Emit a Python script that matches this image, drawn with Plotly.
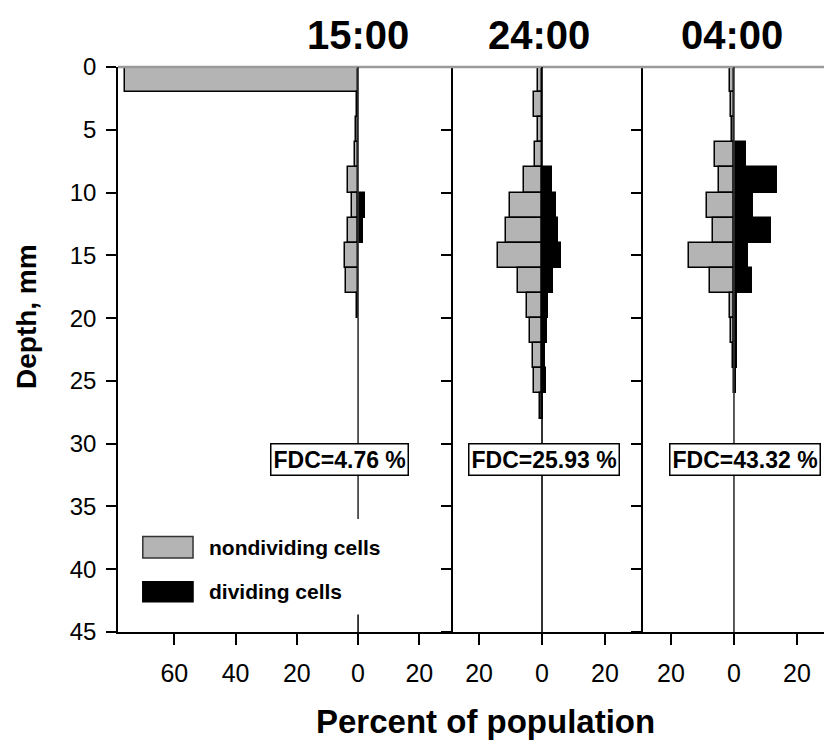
import plotly.graph_objects as go

# ---------------- data ----------------
depth_centers = [1, 3, 5, 7, 9, 11, 13, 15, 17, 19, 21, 23, 25, 27, 29]  # 2-mm depth bins
panel_titles = ["15:00", "24:00", "04:00"]
fdc_labels = ["FDC=4.76 %", "FDC=25.93 %", "FDC=43.32 %"]

nondiv_1500 = [76.0, 0.3, 0.7, 1.0, 3.4, 2.0, 3.4, 4.2, 4.0, 0.5, 0, 0, 0, 0, 0]
div_1500    = [0, 0, 0, 0, 0, 2.4, 1.6, 0, 0, 0, 0, 0, 0, 0, 0]

nondiv_2400 = [1.4, 2.5, 1.4, 2.2, 5.7, 10.2, 11.4, 14.0, 7.5, 4.8, 3.8, 3.0, 2.5, 0.6, 0]
div_2400    = [0, 0, 0, 0, 3.1, 4.3, 5.0, 6.1, 3.6, 2.0, 1.5, 1.0, 1.3, 0.3, 0]

nondiv_0400 = [1.4, 0.9, 0.5, 6.0, 4.7, 8.6, 6.7, 14.2, 7.5, 1.4, 0.9, 0.3, 0, 0, 0]
div_0400    = [0, 0, 0, 3.8, 13.6, 5.9, 11.7, 4.6, 5.7, 0.8, 0.8, 1.1, 0.7, 0, 0]

x_tickvals = [[-60, -40, -20, 0, 20], [-20, 0, 20], [-20, 0, 20]]
x_ticktext = [["60", "40", "20", "0", "20"], ["20", "0", "20"], ["20", "0", "20"]]
x_ranges = [[-78.4, 31.0], [-28.3, 32.1], [-28.9, 28.6]]
y_tickvals = [0, 5, 10, 15, 20, 25, 30, 35, 40, 45]
fdc_pos = [(-6.0, 31.3), (0.5, 31.3), (3.5, 31.3)]
zero_line_end = [36, 45, 45]

# ---------------- figure ----------------
FONT = "Liberation Sans, Arial, sans-serif"
GRAY = "#b4b4b4"

nondiv_all = [nondiv_1500, nondiv_2400, nondiv_0400]
div_all = [div_1500, div_2400, div_0400]

fig = go.Figure()
for i in range(3):
    xa = "x" if i == 0 else f"x{i+1}"
    ya = "y" if i == 0 else f"y{i+1}"
    fig.add_trace(go.Bar(
        y=depth_centers, x=[(-v if v else None) for v in nondiv_all[i]],
        orientation="h", width=2,
        marker=dict(color=GRAY, line=dict(color="black", width=1.5)),
        xaxis=xa, yaxis=ya, showlegend=False, name="nondividing cells"))
    fig.add_trace(go.Bar(
        y=depth_centers, x=[(v if v else None) for v in div_all[i]],
        orientation="h", width=2,
        marker=dict(color="black", line=dict(color="black", width=1.5)),
        xaxis=xa, yaxis=ya, showlegend=False, name="dividing cells"))

doms = [[0, 0.4745], [0.4745, 0.7436], [0.7436, 1.0]]
layout = dict(
    width=824, height=742,
    margin=dict(l=118, r=0, t=67, b=110),
    paper_bgcolor="white", plot_bgcolor="white",
    barmode="overlay", bargap=0,
    font=dict(family=FONT, color="black", size=24),
)
for i in range(3):
    xk = "xaxis" if i == 0 else f"xaxis{i+1}"
    yk = "yaxis" if i == 0 else f"yaxis{i+1}"
    layout[xk] = dict(
        domain=doms[i], range=x_ranges[i], anchor="y" if i == 0 else f"y{i+1}",
        tickvals=x_tickvals[i], ticktext=x_ticktext[i],
        showline=True, linecolor="black", linewidth=1.5,
        ticks="outside", ticklen=11, tickwidth=1.5, tickcolor="black",
        showgrid=False, zeroline=False, fixedrange=True,
        tickfont=dict(size=25, family=FONT), ticklabelstandoff=7,
    )
    layout[yk] = dict(
        domain=[0, 1], range=[45, 0], anchor="x" if i == 0 else f"x{i+1}",
        tickvals=y_tickvals,
        showline=True, linecolor="black", linewidth=1.5,
        ticks="outside", ticklen=10, tickwidth=1.5, tickcolor="black",
        showgrid=False, zeroline=False, showticklabels=(i == 0),
        tickfont=dict(size=24, family=FONT), ticklabelstandoff=5,
    )
    if i > 0:
        layout[yk]["matches"] = "y"
fig.update_layout(**layout)

shapes = []
# top border line
shapes.append(dict(type="line", xref="paper", yref="paper", x0=0, x1=1, y0=1, y1=1,
                   line=dict(color="#9a9a9a", width=2.5)))
for i in range(3):
    xr = "x" if i == 0 else f"x{i+1}"
    yr = "y" if i == 0 else f"y{i+1}"
    shapes.append(dict(type="line", xref=xr, yref=yr, x0=0, x1=0, y0=0, y1=zero_line_end[i],
                       line=dict(color="#333333" if i != 1 else "black", width=1.6)))
# small inner tick at bottom of panel 1 zero
shapes.append(dict(type="line", xref="x", yref="y", x0=0, x1=0, y0=43.6, y1=45,
                   line=dict(color="black", width=1.5)))
# legend boxes
shapes.append(dict(type="rect", xref="x", yref="y", x0=-70.3, x1=-53.9, y0=37.4, y1=39.1,
                   fillcolor=GRAY, line=dict(color="#333333", width=1.5)))
shapes.append(dict(type="rect", xref="x", yref="y", x0=-70.3, x1=-53.9, y0=41.0, y1=42.6,
                   fillcolor="black", line=dict(color="black", width=1.5)))

annotations = []
title_x = [0.340, 0.597, 0.870]
for i in range(3):
    annotations.append(dict(text=f"<b>{panel_titles[i]}</b>", xref="paper", yref="paper",
                            x=title_x[i], y=1.057, xanchor="center", yanchor="middle",
                            showarrow=False, font=dict(size=40, family=FONT)))
    xr = "x" if i == 0 else f"x{i+1}"
    yr = "y" if i == 0 else f"y{i+1}"
    annotations.append(dict(text=f"<b>{fdc_labels[i]}</b>", xref=xr, yref=yr,
                            x=fdc_pos[i][0], y=fdc_pos[i][1], xanchor="center", yanchor="middle",
                            showarrow=False, font=dict(size=23, family=FONT),
                            bgcolor="white", bordercolor="black", borderwidth=1.5, borderpad=2))
annotations.append(dict(text="<b>nondividing cells</b>", xref="x", yref="y", x=-49.3, y=38.3,
                        xanchor="left", yanchor="middle", showarrow=False,
                        font=dict(size=21, family=FONT)))
annotations.append(dict(text="<b>dividing cells</b>", xref="x", yref="y", x=-49.3, y=41.8,
                        xanchor="left", yanchor="middle", showarrow=False,
                        font=dict(size=21, family=FONT)))
annotations.append(dict(text="<b>Depth, mm</b>", xref="paper", yref="paper",
                        x=-0.1303, y=0.5575, xanchor="center", yanchor="middle", textangle=-90,
                        showarrow=False, font=dict(size=28, family=FONT)))
annotations.append(dict(text="<b>Percent of population</b>", xref="paper", yref="paper",
                        x=0.52, y=-0.158, xanchor="center", yanchor="middle",
                        showarrow=False, font=dict(size=33, family=FONT)))
fig.update_layout(shapes=shapes, annotations=annotations)

fig.write_html("out.html")
